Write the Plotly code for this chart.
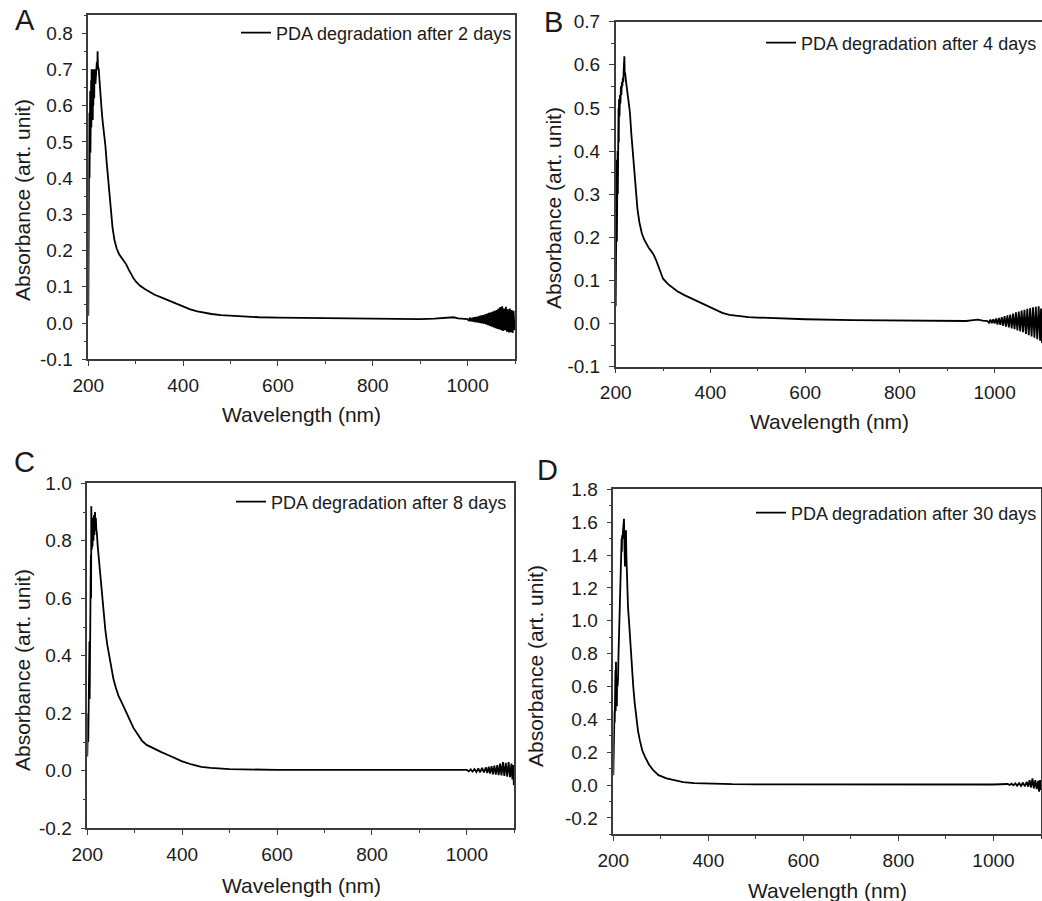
import plotly.graph_objects as go

# ---------------- data ----------------
wl_a = [200, 200.5, 201, 201.5, 202, 202.5, 203, 203.5, 204, 204.5, 205, 205.5, 206, 206.5, 207, 207.5,
        208, 208.5, 209, 209.5, 210, 210.5, 211, 211.5, 212, 212.5, 213, 213.5, 214, 215, 216, 217, 218, 219,
        219.6, 220.3, 222, 225, 228, 230, 233, 236, 239, 242, 245, 248, 251, 255, 260, 265, 270, 275, 280,
        285, 290, 296, 302, 310, 320, 330, 340, 355, 370, 385, 400, 415, 430, 445, 460, 480, 500, 530, 560,
        600, 650, 700, 750, 800, 850, 900, 930, 950, 960, 970, 980, 990,
        1000, 1003, 1005, 1007, 1009, 1011, 1013, 1015, 1017, 1019, 1021, 1023, 1025, 1027, 1029, 1031, 1033,
        1035, 1037, 1039, 1041, 1043, 1045, 1047, 1049, 1051, 1053, 1055, 1057, 1059, 1061, 1063, 1065, 1067,
        1069, 1071, 1073, 1075, 1077, 1079, 1081, 1083, 1085, 1087, 1089, 1091, 1093, 1095, 1097, 1099, 1100]
abs_a = [0.02, 0.24, 0.45, 0.28, 0.58, 0.40, 0.62, 0.43, 0.64, 0.47, 0.66, 0.50, 0.67, 0.54, 0.70, 0.57,
         0.69, 0.58, 0.70, 0.56, 0.70, 0.60, 0.69, 0.61, 0.70, 0.62, 0.70, 0.64, 0.69, 0.66, 0.70, 0.68, 0.72, 0.70,
         0.75, 0.71, 0.70, 0.63, 0.59, 0.56, 0.53, 0.49, 0.44, 0.39, 0.34, 0.30, 0.265, 0.23, 0.205, 0.19, 0.18, 0.172, 0.162,
         0.148, 0.135, 0.122, 0.112, 0.102, 0.093, 0.085, 0.078, 0.070, 0.062, 0.053, 0.045, 0.038, 0.032, 0.028, 0.025, 0.022, 0.020, 0.018, 0.016,
         0.015, 0.014, 0.013, 0.013, 0.012, 0.012, 0.011, 0.012, 0.013, 0.015, 0.016, 0.013, 0.012,
         0.011, 0.006, 0.015, 0.005, 0.014, 0.004, 0.016, 0.003, 0.017, 0.002, 0.018, 0.001, 0.020, 0.000, 0.021, -0.001, 0.022,
         -0.002, 0.024, -0.004, 0.026, -0.006, 0.028, -0.008, 0.030, -0.010, 0.032, -0.012, 0.034, -0.014, 0.036, -0.016, 0.040, -0.018,
         0.044, -0.020, 0.046, -0.022, 0.040, -0.020, 0.045, -0.024, 0.038, -0.026, 0.040, -0.025, 0.036, -0.027, 0.034, -0.020, 0.010]

wl_b = [200, 200.5, 201, 201.5, 202, 202.5, 203, 203.5, 204, 204.5, 205, 205.5, 206, 206.5, 207, 208, 209, 210,
        211, 212, 213, 214, 215, 216, 217, 218.3, 219, 220, 222, 224, 226, 228, 230, 233, 236, 239, 242, 246, 250,
        255, 260, 265, 270, 275, 280, 285, 290, 295, 300, 310, 320, 330, 345, 360, 378, 395, 410, 425, 440, 460,
        480, 500, 550, 600, 700, 800, 900, 940, 955, 965, 975,
        985, 988, 991, 994, 997, 1000, 1003, 1006, 1009, 1012, 1015, 1018, 1021, 1024, 1027, 1030, 1033, 1036,
        1039, 1042, 1045, 1048, 1051, 1054, 1057, 1060, 1063, 1066, 1069, 1072, 1075, 1078, 1081, 1084, 1087,
        1090, 1093, 1096, 1098, 1100]
abs_b = [0.04, 0.17, 0.36, 0.18, 0.38, 0.19, 0.37, 0.22, 0.40, 0.30, 0.45, 0.35, 0.50, 0.42, 0.52, 0.48, 0.53, 0.51,
         0.55, 0.53, 0.56, 0.55, 0.57, 0.56, 0.59, 0.62, 0.58, 0.58, 0.56, 0.54, 0.52, 0.51, 0.49, 0.44, 0.40, 0.35, 0.31, 0.265, 0.235,
         0.21, 0.195, 0.183, 0.175, 0.168, 0.160, 0.148, 0.132, 0.117, 0.104, 0.092, 0.083, 0.075, 0.066, 0.058, 0.050, 0.040, 0.032, 0.025, 0.020, 0.017,
         0.015, 0.014, 0.012, 0.010, 0.008, 0.007, 0.006, 0.006, 0.008, 0.009, 0.007,
         0.006, 0.002, 0.009, 0.001, 0.010, 0.000, 0.012, -0.002, 0.013, -0.003, 0.015, -0.005, 0.017, -0.007, 0.019, -0.009, 0.021, -0.011,
         0.023, -0.013, 0.026, -0.016, 0.028, -0.018, 0.030, -0.020, 0.032, -0.024, 0.034, -0.027, 0.036, -0.030, 0.038, -0.033, 0.039,
         -0.036, 0.040, -0.040, 0.035, -0.045]

wl_c = [200, 200.5, 201, 201.5, 202, 202.5, 203, 203.5, 204, 204.5, 205, 205.5, 206, 206.5, 207, 207.5, 208,
        208.4, 209, 209.5, 210, 211, 212, 213, 214, 215, 216.2, 217, 218, 219, 220, 222, 225, 228, 231, 234, 238,
        242, 246, 250, 255, 260, 266, 272, 278, 284, 290, 297, 305, 315, 325, 340, 355, 370, 385, 400, 420, 440,
        460, 500, 600, 700, 800, 900, 960, 980,
        1000, 1004, 1008, 1012, 1016, 1020, 1024, 1028, 1032, 1036, 1040, 1043, 1046, 1049, 1052, 1055, 1058,
        1061, 1064, 1067, 1070, 1073, 1076, 1079, 1082, 1085, 1088, 1091, 1094, 1096, 1098, 1099, 1100]
abs_c = [0.05, 0.18, 0.08, 0.20, 0.10, 0.24, 0.17, 0.30, 0.23, 0.45, 0.25, 0.52, 0.30, 0.56, 0.54, 0.75, 0.60,
         0.92, 0.70, 0.77, 0.85, 0.78, 0.88, 0.80, 0.89, 0.82, 0.90, 0.85, 0.88, 0.84, 0.83, 0.78, 0.72, 0.66, 0.60, 0.55, 0.49,
         0.44, 0.40, 0.36, 0.32, 0.29, 0.26, 0.24, 0.22, 0.20, 0.175, 0.15, 0.128, 0.105, 0.09, 0.077, 0.066, 0.055, 0.044, 0.033, 0.022, 0.014,
         0.010, 0.006, 0.003, 0.003, 0.002, 0.003, 0.004, 0.003,
         0.003, -0.002, 0.005, -0.003, 0.006, -0.004, 0.008, -0.005, 0.010, -0.006, 0.012, -0.008, 0.014, -0.010, 0.016, -0.012, 0.018,
         -0.013, 0.020, -0.015, 0.025, -0.016, 0.030, -0.018, 0.028, -0.020, 0.030, -0.022, 0.025, -0.030, 0.020, -0.050, 0.010]

wl_d = [200, 200.5, 201, 201.5, 202, 202.5, 203, 203.5, 204, 204.5, 205, 205.6, 206.5, 207, 207.5, 208, 209,
        210, 211, 212, 213, 214, 215, 216, 217, 217.5, 218, 218.5, 219.5, 220.5, 221.5, 222.5, 223.5, 224.6,
        225.5, 226.7, 227.5, 229, 231, 233, 235, 237, 239.5, 242, 245, 249, 252, 256, 261, 267, 275, 284, 295,
        312, 330, 347, 370, 400, 450, 500, 600, 800, 1000,
        1030, 1034, 1038, 1042, 1046, 1050, 1054, 1058, 1062, 1066, 1070, 1073, 1076, 1079, 1082, 1085, 1088,
        1091, 1094, 1096, 1098, 1100]
abs_d = [0.06, 0.20, 0.12, 0.35, 0.25, 0.45, 0.38, 0.60, 0.40, 0.70, 0.45, 0.75, 0.50, 0.65, 0.48, 0.62, 0.60,
         0.65, 0.80, 0.92, 1.05, 1.15, 1.25, 1.35, 1.45, 1.50, 1.42, 1.52, 1.50, 1.55, 1.58, 1.62, 1.45, 1.33,
         1.45, 1.55, 1.40, 1.18, 1.08, 1.00, 0.90, 0.81, 0.70, 0.60, 0.50, 0.40, 0.33, 0.27, 0.21, 0.17, 0.125, 0.09, 0.06,
         0.04, 0.027, 0.018, 0.012, 0.008, 0.005, 0.004, 0.003, 0.003, 0.003,
         0.006, 0.000, 0.008, -0.002, 0.010, -0.004, 0.012, -0.006, 0.015, -0.008, 0.020, -0.010, 0.030, -0.015, 0.040, -0.020, 0.030,
         -0.025, 0.025, -0.040, 0.030, -0.030]

names = ["PDA degradation after 2 days", "PDA degradation after 4 days",
         "PDA degradation after 8 days", "PDA degradation after 30 days"]
letters = ["A", "B", "C", "D"]

x_ticks = [200, 400, 600, 800, 1000]
y_ticks_a = [-0.1, 0.0, 0.1, 0.2, 0.3, 0.4, 0.5, 0.6, 0.7, 0.8]
y_ticks_b = [-0.1, 0.0, 0.1, 0.2, 0.3, 0.4, 0.5, 0.6, 0.7]
y_ticks_c = [-0.2, 0.0, 0.2, 0.4, 0.6, 0.8, 1.0]
y_ticks_d = [-0.2, 0.0, 0.2, 0.4, 0.6, 0.8, 1.0, 1.2, 1.4, 1.6, 1.8]

# ---------------- layout geometry ----------------
W, H = 1042, 901
FONT = "Liberation Sans, Arial, Helvetica, sans-serif"
AX = "#3c3c3c"

panels = [
    dict(x=wl_a, y=abs_a, xd=(88.3, 515.0), yd=(15.0, 359.3), yr=[-0.1, 0.85], yt=y_ticks_a, ymin=0.05,
         leg=(517, 33), ytit=(22, 200), xtit=(301, 414), let=(25, 20)),
    dict(x=wl_b, y=abs_b, xd=(615.7, 1042.0), yd=(21.7, 366.7), yr=[-0.1, 0.7], yt=y_ticks_b, ymin=0.05,
         leg=(1042, 43), ytit=(553, 208), xtit=(829, 421), let=(553, 22)),
    dict(x=wl_c, y=abs_c, xd=(87.3, 514.3), yd=(483.3, 828.3), yr=[-0.2, 1.0], yt=y_ticks_c, ymin=0.1,
         leg=(512, 502), ytit=(22, 670), xtit=(301, 885), let=(24, 462)),
    dict(x=wl_d, y=abs_d, xd=(613.3, 1041.0), yd=(489.3, 834.3), yr=[-0.3, 1.8], yt=y_ticks_d, ymin=0.1,
         leg=(1042, 513), ytit=(535, 666), xtit=(827, 890), let=(547, 470)),
]

fig = go.Figure()
layout = dict(width=W, height=H, margin=dict(l=0, r=0, t=0, b=0, autoexpand=False),
              paper_bgcolor="white", plot_bgcolor="white",
              font=dict(family=FONT, color="#1a1a1a"), annotations=[])

for i, p in enumerate(panels):
    n = "" if i == 0 else str(i + 1)
    leg = "legend" if i == 0 else "legend" + str(i + 1)
    fig.add_trace(go.Scatter(x=p["x"], y=p["y"], mode="lines", name=names[i],
                             line=dict(color="black", width=1.8),
                             xaxis="x" + n, yaxis="y" + n, legend=leg, showlegend=True))
    common = dict(showline=True, linecolor=AX, linewidth=1.5, mirror=True, showgrid=False, zeroline=False,
                  automargin=False, ticks="outside", ticklen=5, tickwidth=1.3, tickcolor=AX,
                  tickfont=dict(family=FONT, size=19, color="#1a1a1a"))
    layout["xaxis" + n] = dict(common, domain=[p["xd"][0] / W, p["xd"][1] / W], range=[200, 1100],
                               anchor="y" + n, tickmode="array", tickvals=x_ticks,
                               ticktext=[str(v) for v in x_ticks], ticklabelstandoff=3,
                               minor=dict(ticks="outside", ticklen=3, tickcolor=AX, tickwidth=1.2,
                                          tickmode="linear", tick0=100, dtick=100, showgrid=False))
    layout["yaxis" + n] = dict(common, domain=[1 - p["yd"][1] / H, 1 - p["yd"][0] / H], range=p["yr"],
                               anchor="x" + n, tickmode="array", tickvals=p["yt"],
                               ticktext=[f"{v:.1f}" for v in p["yt"]], ticklabelstandoff=5,
                               minor=dict(ticks="outside", ticklen=3, tickcolor=AX, tickwidth=1.2,
                                          tickmode="linear", tick0=0, dtick=p["ymin"], showgrid=False))
    layout[leg] = dict(x=p["leg"][0] / W, y=1 - p["leg"][1] / H, xanchor="right", yanchor="middle",
                       bgcolor="rgba(0,0,0,0)", borderwidth=0, font=dict(family=FONT, size=18, color="#1a1a1a"),
                       itemwidth=30, tracegroupgap=0)
    layout["annotations"] += [
        dict(text="Absorbance (art. unit)", x=p["ytit"][0] / W, y=1 - p["ytit"][1] / H, xref="paper", yref="paper",
             textangle=-90, showarrow=False, font=dict(family=FONT, size=21, color="#1a1a1a"),
             xanchor="center", yanchor="middle"),
        dict(text="Wavelength (nm)", x=p["xtit"][0] / W, y=1 - p["xtit"][1] / H, xref="paper", yref="paper",
             showarrow=False, font=dict(family=FONT, size=21, color="#1a1a1a"),
             xanchor="center", yanchor="middle"),
        dict(text=letters[i], x=p["let"][0] / W, y=1 - p["let"][1] / H, xref="paper", yref="paper",
             showarrow=False, font=dict(family=FONT, size=29, color="#1a1a1a"),
             xanchor="center", yanchor="middle"),
    ]

fig.update_layout(**layout)
fig.write_html("out.html", config={"displayModeBar": False},
               post_script="document.body.style.margin='0px';")
